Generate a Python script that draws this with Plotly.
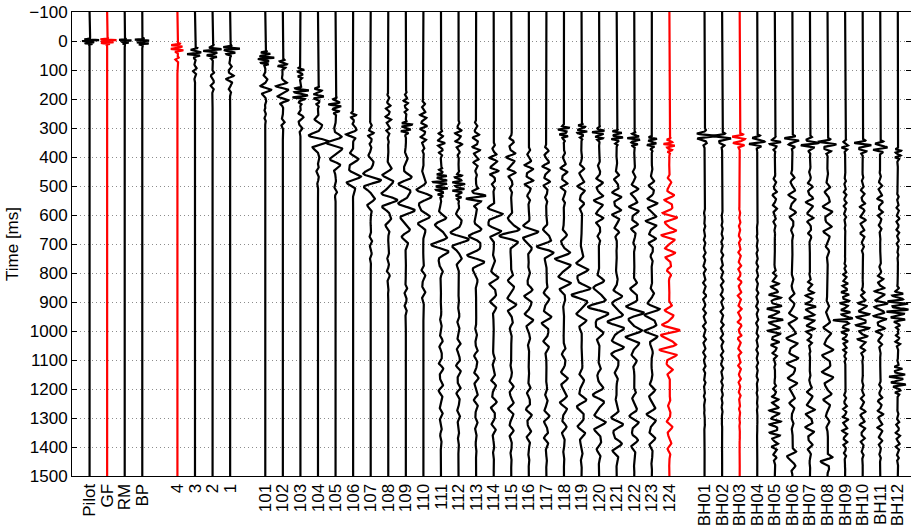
import numpy as np
import plotly.graph_objects as go

# Trace labels and their slot numbers along the x axis (empty slots separate groups)
source_labels = ["Pilot", "GF", "RM", "BP"]
source_slots = [1, 2, 3, 4]
near_labels = ["4", "3", "2", "1"]
near_slots = [6, 7, 8, 9]
line_labels = [str(n) for n in range(101, 125)]
line_slots = list(range(11, 35))
borehole_labels = ["BH%02d" % n for n in range(1, 13)]
borehole_slots = list(range(36, 48))

red_traces = ["GF", "4", "124", "BH03"]

# Picked wave packets per trace: (label, start ms, end ms, amplitude in trace widths, period ms)
source_events = [
    ("Pilot", -12, 18, 0.50, 7),
    ("GF", -12, 18, 0.55, 7),
    ("RM", -10, 15, 0.40, 7),
    ("BP", -12, 22, 0.50, 9),
]
near_events = [
    ("4", 5, 50, 0.45, 12), ("4", 50, 90, 0.12, 20),
    ("3", 20, 70, 0.45, 14), ("3", 60, 160, 0.10, 25),
    ("2", 10, 75, 0.50, 14), ("2", 70, 200, 0.12, 30),
    ("1", 10, 60, 0.50, 13), ("1", 50, 200, 0.20, 30),
]
line_events = [
    ("101", 30, 100, 0.45, 12), ("101", 90, 230, 0.30, 35), ("101", 220, 300, 0.06, 25),
    ("102", 60, 110, 0.30, 15), ("102", 100, 250, 0.40, 32), ("102", 240, 330, 0.10, 30),
    ("103", 80, 150, 0.20, 15), ("103", 150, 230, 0.50, 16), ("103", 220, 330, 0.20, 35),
    ("104", 150, 240, 0.30, 18), ("104", 230, 430, 0.55, 52), ("104", 420, 520, 0.10, 40),
    ("105", 190, 270, 0.35, 16), ("105", 260, 480, 0.50, 52), ("105", 470, 560, 0.10, 40),
    ("106", 230, 300, 0.15, 20), ("106", 290, 350, 0.50, 40), ("106", 340, 560, 0.45, 55),
    ("107", 260, 380, 0.15, 25), ("107", 350, 620, 0.50, 58), ("107", 600, 800, 0.08, 40),
    ("108", 140, 380, 0.15, 25), ("108", 360, 700, 0.45, 58), ("108", 680, 900, 0.08, 40),
    ("109", 150, 280, 0.12, 20), ("109", 270, 340, 0.35, 15), ("109", 330, 780, 0.45, 60),
    ("109", 760, 1000, 0.08, 40),
    ("110", 160, 420, 0.20, 25), ("110", 400, 720, 0.45, 62), ("110", 700, 960, 0.12, 50),
    ("111", 280, 420, 0.20, 22), ("111", 420, 560, 0.40, 14), ("111", 530, 840, 0.50, 62),
    ("111", 820, 1500, 0.12, 50),
    ("112", 250, 420, 0.20, 25), ("112", 430, 570, 0.35, 15), ("112", 550, 810, 0.50, 60),
    ("112", 780, 1500, 0.12, 50),
    ("113", 230, 500, 0.20, 28), ("113", 500, 590, 0.55, 25), ("113", 570, 870, 0.50, 60),
    ("113", 850, 1500, 0.12, 50),
    ("114", 320, 540, 0.25, 30), ("114", 530, 710, 0.60, 55), ("114", 690, 1000, 0.25, 55),
    ("114", 980, 1500, 0.15, 50),
    ("115", 270, 560, 0.25, 35), ("115", 570, 750, 0.60, 58), ("115", 730, 1050, 0.25, 55),
    ("115", 1030, 1500, 0.15, 50),
    ("116", 330, 590, 0.25, 35), ("116", 590, 750, 0.50, 55), ("116", 730, 1100, 0.25, 55),
    ("116", 1080, 1500, 0.15, 50),
    ("117", 300, 600, 0.20, 35), ("117", 610, 790, 0.50, 55), ("117", 770, 1150, 0.25, 55),
    ("117", 1130, 1500, 0.15, 50),
    ("118", 280, 360, 0.30, 15), ("118", 340, 600, 0.20, 35), ("118", 600, 950, 0.45, 55),
    ("118", 930, 1500, 0.20, 55),
    ("119", 280, 350, 0.30, 14), ("119", 350, 650, 0.20, 40), ("119", 660, 1060, 0.50, 58),
    ("119", 1040, 1500, 0.25, 60),
    ("120", 290, 360, 0.35, 14), ("120", 360, 750, 0.25, 40), ("120", 750, 1080, 0.55, 60),
    ("120", 1050, 1500, 0.35, 62),
    ("121", 300, 370, 0.35, 14), ("121", 370, 750, 0.25, 40), ("121", 750, 1220, 0.45, 58),
    ("121", 1190, 1500, 0.35, 60),
    ("122", 310, 380, 0.35, 14), ("122", 380, 760, 0.25, 40), ("122", 760, 1170, 0.50, 55),
    ("122", 1140, 1500, 0.25, 55),
    ("123", 320, 390, 0.30, 14), ("123", 390, 810, 0.30, 40), ("123", 810, 1110, 0.45, 50),
    ("123", 1080, 1500, 0.25, 55),
    ("124", 330, 400, 0.30, 14), ("124", 400, 880, 0.40, 40), ("124", 850, 1200, 0.55, 45),
    ("124", 1170, 1500, 0.15, 50),
]
borehole_events = [
    ("BH01", 300, 370, 0.55, 22), ("BH01", 360, 1500, 0.08, 30),
    ("BH02", 310, 375, 0.50, 22), ("BH02", 370, 1500, 0.08, 30),
    ("BH03", 315, 380, 0.50, 20), ("BH03", 375, 1500, 0.10, 30),
    ("BH04", 320, 385, 0.50, 20), ("BH04", 380, 1500, 0.06, 30),
    ("BH05", 325, 390, 0.30, 18), ("BH05", 390, 710, 0.12, 30), ("BH05", 730, 1160, 0.40, 25),
    ("BH05", 1130, 1500, 0.30, 25),
    ("BH06", 320, 380, 0.45, 20), ("BH06", 380, 720, 0.20, 40), ("BH06", 720, 1420, 0.30, 45),
    ("BH06", 1400, 1500, 0.40, 50),
    ("BH07", 325, 395, 0.50, 20), ("BH07", 390, 750, 0.20, 35), ("BH07", 760, 1110, 0.30, 25),
    ("BH07", 1100, 1500, 0.25, 40),
    ("BH08", 330, 400, 0.50, 22), ("BH08", 400, 800, 0.25, 45), ("BH08", 800, 1430, 0.30, 50),
    ("BH08", 1420, 1500, 0.40, 45),
    ("BH09", 335, 400, 0.20, 18), ("BH09", 400, 700, 0.08, 25), ("BH09", 710, 1160, 0.25, 20),
    ("BH09", 1150, 1500, 0.15, 25), ("BH09", 950, 975, 0.60, 15),
    ("BH10", 335, 400, 0.50, 20), ("BH10", 400, 800, 0.15, 30), ("BH10", 810, 1130, 0.35, 25),
    ("BH10", 1120, 1500, 0.15, 30),
    ("BH11", 340, 400, 0.50, 20), ("BH11", 400, 720, 0.15, 30), ("BH11", 730, 1110, 0.35, 28),
    ("BH11", 1100, 1500, 0.15, 30),
    ("BH12", 360, 430, 0.20, 15), ("BH12", 430, 820, 0.08, 25), ("BH12", 830, 1010, 0.60, 18),
    ("BH12", 1000, 1080, 0.15, 20), ("BH12", 1090, 1240, 0.45, 18), ("BH12", 1230, 1500, 0.12, 25),
]

time_ticks = list(range(-100, 1501, 100))

# ---------------------------------------------------------------------------
labels = source_labels + near_labels + line_labels + borehole_labels
slots = source_slots + near_slots + line_slots + borehole_slots
events = source_events + near_events + line_events + borehole_events

t = np.arange(-100, 1501, 1.0)


def trace_signal(label):
    """Sum of tapered wave packets; each packet mixes its main period with a
    shorter overtone so the wiggle is not a pure sinusoid."""
    s = np.zeros_like(t)
    for k, (name, t0, t1, amp, period) in enumerate(events):
        if name != label:
            continue
        m = (t >= t0) & (t <= t1)
        tau = t[m] - t0
        u = tau / (t1 - t0)
        # short first-arrival bursts rise quickly; long wave trains are symmetric
        skew = 0.7 if (t1 - t0) <= 100 else 1.0
        env = np.sin(np.pi * u ** skew) ** 2
        main = np.sin(2 * np.pi * tau / period)
        over = 0.4 * np.sin(2 * np.pi * tau / (0.62 * period) + 1.3 + 0.7 * k)
        s[m] += amp * env * (main + over) / 1.2
    return s


fig = go.Figure()
for label, slot in zip(labels, slots):
    color = "#ff0000" if label in red_traces else "#000000"
    fig.add_trace(go.Scatter(
        x=slot + trace_signal(label), y=t, mode="lines",
        line=dict(color=color, width=2.2), hoverinfo="skip", showlegend=False,
    ))

font = dict(family="Liberation Sans, Arial, sans-serif", size=17, color="#000000")
fig.update_layout(
    width=911, height=531,
    margin=dict(l=72, r=0, t=12, b=55),
    paper_bgcolor="white", plot_bgcolor="white",
    font=font,
    xaxis=dict(
        range=[0, 47.75], tickmode="array", tickvals=slots, ticktext=labels,
        tickangle=-90, ticks="", showgrid=False, zeroline=False,
        showline=True, linecolor="black", linewidth=1, mirror=True,
        tickfont=font,
    ),
    yaxis=dict(
        range=[1500, -100], tickmode="array", tickvals=time_ticks,
        ticktext=[str(v).replace("-", "\u2212") for v in time_ticks],
        ticks="inside", ticklen=5, tickcolor="black",
        showgrid=True, gridcolor="#8c8c8c", griddash="1px,3px", gridwidth=1,
        zeroline=False, showline=True, linecolor="black", linewidth=1, mirror="ticks",
        title=dict(text="Time [ms]", font=font, standoff=6),
        tickfont=font,
    ),
)

fig.write_html("out.html")
